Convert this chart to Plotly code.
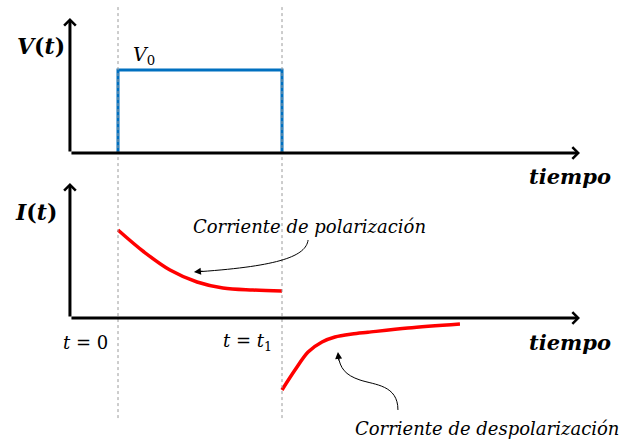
import plotly.graph_objects as go

# Applied step voltage V(t): zero, then V0 between t = 0 and t = t1
pulse_t = [0.0, 0.0, 1.0, 1.0]
pulse_v = [0.0, 1.0, 1.0, 0.0]

# Polarization (charging) current while the step is applied
pol_t = [0.0, 0.159, 0.317, 0.482, 0.640, 0.823, 1.0]
pol_i = [1.0, 0.75, 0.545, 0.409, 0.341, 0.318, 0.307]

# Depolarization (discharge) current after the step is removed
dep_t = [1.0, 1.079, 1.159, 1.244, 1.323, 1.427, 1.524, 1.768, 2.085]
dep_i = [-0.818, -0.591, -0.386, -0.273, -0.216, -0.182, -0.162, -0.114, -0.068]

# Marker times on the time axis
mark_t = [0.0, 1.0]
mark_labels = ["<i>t</i> = 0", "<i>t</i> = <i>t</i><sub>1</sub>"]

BLUE = "#0070C0"
RED = "#FF0000"
SERIF = "DejaVu Serif"

fig = go.Figure()

fig.add_trace(go.Scatter(x=pulse_t, y=pulse_v, mode="lines",
                         line=dict(color=BLUE, width=3), yaxis="y",
                         hoverinfo="skip", showlegend=False))
fig.add_trace(go.Scatter(x=pol_t, y=pol_i, mode="lines",
                         line=dict(color=RED, width=3.5, shape="spline"),
                         yaxis="y2", hoverinfo="skip", showlegend=False))
fig.add_trace(go.Scatter(x=dep_t, y=dep_i, mode="lines",
                         line=dict(color=RED, width=3.5, shape="spline", smoothing=0.9),
                         yaxis="y2", hoverinfo="skip", showlegend=False))

# Time-axis extents
t_axis_start, t_axis_end = -0.293, 2.817

annotations = []


def axis_arrow(x0, y0, x1, y1, yref):
    annotations.append(dict(
        x=x1, y=y1, ax=x0, ay=y0, xref="x", yref=yref, axref="x", ayref=yref,
        text="", showarrow=True, arrowhead=4, arrowsize=0.75, arrowwidth=3,
        arrowcolor="black", standoff=0, startstandoff=0))


# Horizontal time axes and vertical V / I axes with arrowheads
axis_arrow(t_axis_start, 0, t_axis_end, 0, "y")
axis_arrow(t_axis_start, 0, t_axis_start, 1.627, "y")
axis_arrow(t_axis_start, 0, t_axis_end, 0, "y2")
axis_arrow(t_axis_start, 0, t_axis_start, 1.534, "y2")

# Axis titles
annotations += [
    dict(x=-0.47, y=1.289, xref="x", yref="y", showarrow=False,
         text="<b><i>V</i>(<i>t</i>)</b>", font=dict(family=SERIF, size=22, color="black")),
    dict(x=-0.5, y=1.205, xref="x", yref="y2", showarrow=False,
         text="<b><i>I</i>(<i>t</i>)</b>", font=dict(family=SERIF, size=22, color="black")),
    dict(x=3.018, y=-0.289, xref="x", yref="y", showarrow=False, xanchor="right",
         text="<b><i>tiempo</i></b>", font=dict(family=SERIF, size=21, color="black")),
    dict(x=3.018, y=-0.273, xref="x", yref="y2", showarrow=False, xanchor="right",
         text="<b><i>tiempo</i></b>", font=dict(family=SERIF, size=21, color="black")),
    dict(x=0.08, y=pulse_v[1], xref="x", yref="y", showarrow=False,
         xanchor="left", yanchor="bottom",
         text="<i>V</i><sub>0</sub>", font=dict(family=SERIF, size=19, color="black")),
]

# Time marker labels
for t, lab in zip(mark_t, mark_labels):
    annotations.append(dict(x=t - 0.049, y=-0.273, xref="x", yref="y2", showarrow=False,
                            xanchor="right", text=lab,
                            font=dict(family=SERIF, size=18, color="black")))

# Callout texts
annotations += [
    dict(x=1.165, y=1.045, xref="x", yref="y2", showarrow=False,
         text="<i>Corriente de polarización</i>",
         font=dict(family=SERIF, size=18, color="black")),
    dict(x=1.43, y=-1.25, xref="x", yref="y2", showarrow=False, xanchor="left",
         text="<i>Corriente de despolarización</i>",
         font=dict(family=SERIF, size=18, color="black")),
    # Arrowheads at the ends of the callout curves
    dict(x=0.463, y=0.523, xref="x", yref="y2", ax=10, ay=-1, text="",
         showarrow=True, arrowhead=2, arrowsize=1.4, arrowwidth=1,
         arrowcolor="black", standoff=0),
    dict(x=1.341, y=-0.386, xref="x", yref="y2", ax=1, ay=10, text="",
         showarrow=True, arrowhead=2, arrowsize=1.4, arrowwidth=1,
         arrowcolor="black", standoff=0),
]

shapes = []
# Dotted guides at t = 0 and t = t1
for t in mark_t:
    shapes.append(dict(type="line", xref="x", yref="paper", x0=t, x1=t,
                       y0=0.052, y1=0.989,
                       line=dict(color="#9a9a9a", width=1, dash="dot")))

# Curved callout leaders
shapes.append(dict(type="path", xref="x", yref="y2",
                   path="M 1.159,0.886 C 1.146,0.705 0.988,0.591 0.50,0.527",
                   line=dict(color="black", width=1)))
shapes.append(dict(type="path", xref="x", yref="y2",
                   path="M 1.707,-1.045 C 1.707,-0.761 1.567,-0.761 1.476,-0.705 "
                        "C 1.384,-0.648 1.354,-0.568 1.343,-0.43",
                   line=dict(color="black", width=1)))

fig.update_layout(
    width=629, height=441,
    margin=dict(l=0, r=0, t=0, b=0),
    paper_bgcolor="white", plot_bgcolor="white",
    showlegend=False,
    xaxis=dict(range=[-0.71951, 3.11585], visible=False, fixedrange=True),
    yaxis=dict(range=[-3.46988, 1.84337], visible=False, fixedrange=True),
    yaxis2=dict(range=[-1.39773, 3.61364], visible=False, overlaying="y",
                fixedrange=True),
    annotations=annotations,
    shapes=shapes,
)

fig.write_html("out.html")
